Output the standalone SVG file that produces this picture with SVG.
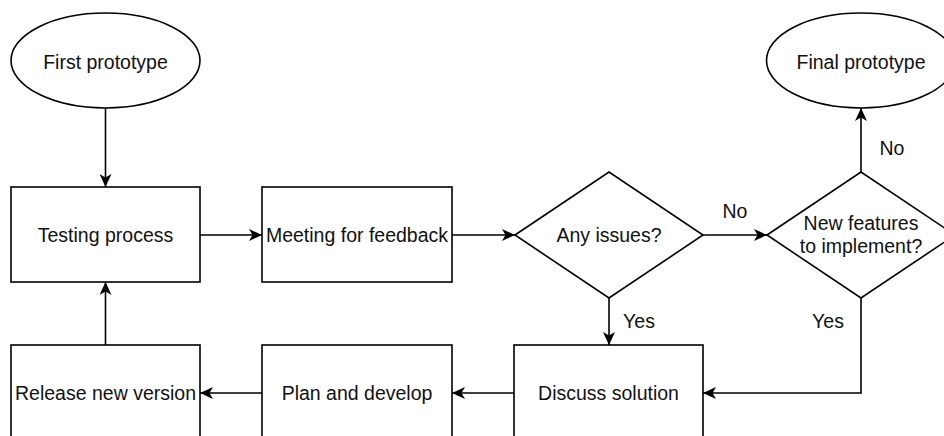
<svg xmlns="http://www.w3.org/2000/svg" width="944" height="436" viewBox="0 0 944 436">
  <style>
    .shape { fill: #ffffff; stroke: #000000; stroke-width: 1.6; }
    .edge { fill: none; stroke: #000000; stroke-width: 1.6; marker-end: url(#arrow); }
    .label { font-family: "Liberation Sans", Arial, sans-serif; font-size: 19.5px; fill: #111111; text-anchor: middle; }
  </style>
  <defs>
    <marker id="arrow" markerUnits="userSpaceOnUse" viewBox="0 0 13 12" refX="13" refY="6" markerWidth="13" markerHeight="12" orient="auto">
      <path d="M0,0 L13,6 L0,12 L3.5,6 Z" fill="#000000"/>
    </marker>
  </defs>
  <rect width="944" height="436" fill="#ffffff"/>

  <!-- connectors -->
  <g id="connectors">
    <path class="edge" d="M105.5,108 L105.5,187"/>
    <path class="edge" d="M200,235 L262,235"/>
    <path class="edge" d="M452,235 L515,235"/>
    <path class="edge" d="M703,235 L767,235"/>
    <path class="edge" d="M861,172 L861,108"/>
    <path class="edge" d="M609,298 L609,345"/>
    <path class="edge" d="M861,298 L861,393 L703,393"/>
    <path class="edge" d="M514,393 L452,393"/>
    <path class="edge" d="M262,393 L200,393"/>
    <path class="edge" d="M105.5,345 L105.5,282"/>
    <text class="label" x="735" y="218">No</text>
    <text class="label" x="892" y="155">No</text>
    <text class="label" x="639" y="328">Yes</text>
    <text class="label" x="828" y="328">Yes</text>
  </g>

  <g id="first-prototype">
    <ellipse class="shape" cx="105.5" cy="60.5" rx="94.5" ry="47.5"/>
    <text class="label" x="105.5" y="68.5">First prototype</text>
  </g>

  <g id="testing-process">
    <rect class="shape" x="11" y="187" width="189" height="95"/>
    <text class="label" x="105.5" y="242">Testing process</text>
  </g>

  <g id="meeting-for-feedback">
    <rect class="shape" x="262" y="187" width="190" height="95"/>
    <text class="label" x="357" y="242">Meeting for feedback</text>
  </g>

  <g id="any-issues">
    <polygon class="shape" points="515,235 609,172 703,235 609,298"/>
    <text class="label" x="609" y="242">Any issues?</text>
  </g>

  <g id="new-features">
    <polygon class="shape" points="767,235 861,172 955,235 861,298"/>
    <text class="label" x="861" y="229.5">New features</text>
    <text class="label" x="861" y="252.5">to implement?</text>
  </g>

  <g id="final-prototype">
    <ellipse class="shape" cx="861" cy="60.5" rx="94.5" ry="47.5"/>
    <text class="label" x="861" y="68.5">Final prototype</text>
  </g>

  <g id="discuss-solution">
    <rect class="shape" x="514" y="345" width="189" height="95"/>
    <text class="label" x="608.5" y="400">Discuss solution</text>
  </g>

  <g id="plan-and-develop">
    <rect class="shape" x="262" y="345" width="190" height="95"/>
    <text class="label" x="357" y="400">Plan and develop</text>
  </g>

  <g id="release-new-version">
    <rect class="shape" x="11" y="345" width="189" height="95"/>
    <text class="label" x="105.5" y="400">Release new version</text>
  </g>
</svg>
